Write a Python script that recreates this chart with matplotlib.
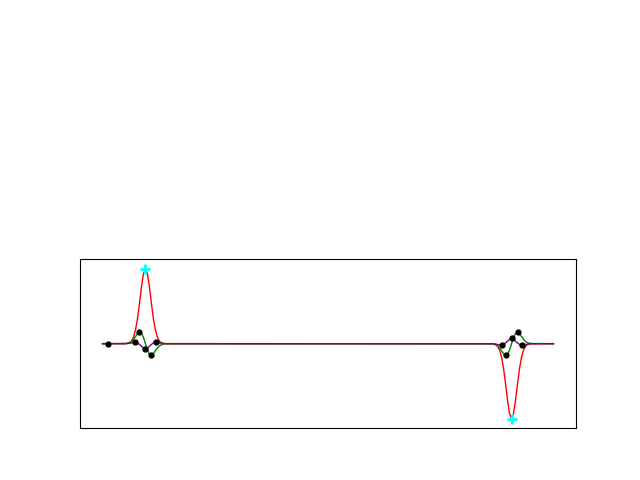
import matplotlib
matplotlib.use("Agg")
import matplotlib.pyplot as plt


# samples along the trace (px-like units), pulses mirrored
X_START, X_END = 0, 452
PULSE_CENTERS = [43, 410]
PULSE_SIGNS = [1, -1]

OFFSETS = [-20, -18, -16, -14, -12, -10, -8, -6, -4, -2, 0,
           2, 4, 6, 8, 10, 12, 14, 16, 18, 20]

RED_SHAPE = [0.001, 0.004, 0.012, 0.035, 0.085, 0.180, 0.330, 0.535, 0.755, 0.932, 1.0,
             0.932, 0.755, 0.535, 0.330, 0.180, 0.085, 0.035, 0.012, 0.004, 0.001]
GREEN_SHAPE = [0.002, 0.0055, 0.014, 0.030, 0.058, 0.095, 0.132, 0.153, 0.138, 0.083, 0.0,
               -0.083, -0.138, -0.153, -0.132, -0.095, -0.058, -0.030, -0.014, -0.0055, -0.002]
PURPLE_SHAPE = [0.0, 0.002, 0.005, 0.010, 0.016, 0.018, 0.010, -0.010, -0.033, -0.058, -0.070,
                -0.058, -0.033, -0.010, 0.010, 0.018, 0.016, 0.010, 0.005, 0.002, 0.0]

DOT_X = [5, 33, 37, 43, 49, 54, 400, 404, 410, 416, 420]
DOT_Y = [0.0, 0.018, 0.153, -0.070, -0.153, 0.018,
         -0.018, -0.153, 0.070, 0.153, -0.018]

PEAK_X = [43, 410]
PEAK_Y = [1.0, -1.0]


def build_series(shape):
    xs = [X_START]
    ys = [0.0]
    for center, sign in zip(PULSE_CENTERS, PULSE_SIGNS):
        for off, val in zip(OFFSETS, shape):
            xs.append(center + off)
            ys.append(sign * val)
    xs.append(X_END)
    ys.append(0.0)
    return xs, ys


fig = plt.figure(figsize=(6.4, 4.8), dpi=100)
ax = fig.add_axes([0.125, 0.108, 0.775, 0.352])

for shape, color in [(RED_SHAPE, "red"), (GREEN_SHAPE, "green"), (PURPLE_SHAPE, "purple")]:
    xs, ys = build_series(shape)
    ax.plot(xs, ys, color=color, linewidth=1.0)

ax.plot(DOT_X, DOT_Y, "o", color="black", markersize=3.5, linestyle="none")
ax.plot(PEAK_X, PEAK_Y, "+", color="cyan", markersize=7, markeredgewidth=2, linestyle="none")

ax.margins(x=0.05, y=0.063)
ax.set_xticks([])
ax.set_yticks([])

fig.savefig("out.png", dpi=100)
